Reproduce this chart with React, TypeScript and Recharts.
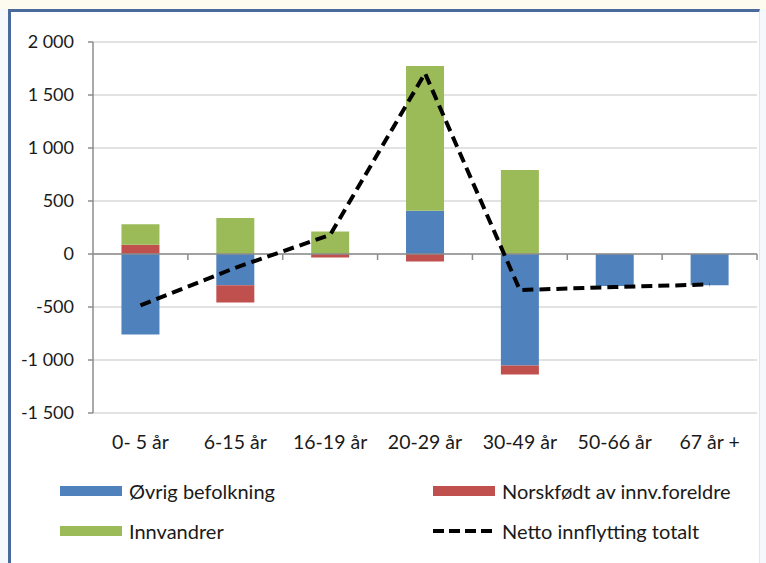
import React from 'react';
import * as R from 'recharts';
import { ComposedChart, Bar, Line, XAxis, YAxis, CartesianGrid, ReferenceLine } from 'recharts';

const categories = ['0- 5 år', '6-15 år', '16-19 år', '20-29 år', '30-49 år', '50-66 år', '67 år +'];
const ovrigBefolkning = [-759, -295, 0, 407, -1051, -302, -295];
const norskfodt = [88, -163, -34, -71, -85, 0, 0];
const innvandrer = [193, 339, 213, 1366, 793, 0, 0];
const nettoInnflytting = [-485, -130, 180, 1705, -340, -312, -287];
const yTicks = [-1500, -1000, -500, 0, 500, 1000, 1500, 2000];
const Y_MIN = -1500;
const Y_MAX = 2000;

const data = categories.map((c, i) => ({
  name: c,
  ovrig: ovrigBefolkning[i],
  norsk: norskfodt[i],
  innv: innvandrer[i],
  netto: nettoInnflytting[i],
}));

const FONT = 'Lato, "Open Sans", sans-serif';
const BLUE = '#4F81BD';
const RED = '#C0504D';
const GREEN = '#9BBB59';

const fmt = (v: number) => {
  const sign = v < 0 ? '-' : '';
  const a = Math.abs(v);
  if (a >= 1000) {
    const th = Math.floor(a / 1000);
    const rest = String(a % 1000).padStart(3, '0');
    return `${sign}${th} ${rest}`;
  }
  return `${sign}${a}`;
};

const legendItems = [
  { label: 'Øvrig befolkning', color: BLUE, type: 'rect', x: 60, y: 491 },
  { label: 'Norskfødt av innv.foreldre', color: RED, type: 'rect', x: 433, y: 491 },
  { label: 'Innvandrer', color: GREEN, type: 'rect', x: 60, y: 531 },
  { label: 'Netto innflytting totalt', color: '#000', type: 'line', x: 433, y: 531 },
];

const usePlotAreaSafe: () => any = (R as any).usePlotArea || (() => null);

function BoundaryTicks() {
  const pa = usePlotAreaSafe();
  if (!pa) return null;
  const zeroY = pa.y + (pa.height * (Y_MAX - 0)) / (Y_MAX - Y_MIN);
  const n = categories.length;
  return (
    <g>
      {categories.map((_, i) => {
        const x = pa.x + ((i + 1) * pa.width) / n;
        return <line key={i} x1={x} x2={x} y1={zeroY} y2={zeroY + 6} stroke="#8c8c8c" strokeWidth={1.5} />;
      })}
    </g>
  );
}

export default function App() {
  return (
    <div style={{ position: 'absolute', left: 0, top: 0, width: 766, height: 563, background: '#f4f8fc', overflow: 'hidden', fontFamily: FONT }}>
      <div style={{ position: 'absolute', left: 0, top: 0, width: 766, height: 9, background: '#fdfbf0' }} />
      <div
        style={{
          position: 'absolute',
          left: 8,
          top: 9,
          width: 752,
          height: 560,
          background: '#fff',
          borderLeft: '3px solid #4a6a9b',
          borderTop: '3px solid #4a6a9b',
          borderRight: '1px solid #dde7f1',
          boxSizing: 'border-box',
        }}
      />
      <div style={{ position: 'absolute', left: 0, top: 0 }}>
        <ComposedChart
          width={766}
          height={563}
          data={data}
          stackOffset="sign"
          barCategoryGap="30%"
          margin={{ top: 42, right: 9, bottom: 110, left: 0 }}
        >
          <CartesianGrid vertical={false} stroke="#d9d9d9" strokeWidth={1.5} />
          <XAxis
            dataKey="name"
            height={40}
            axisLine={false}
            tickLine={false}
            tickMargin={16}
            interval={0}
            tick={{ fontSize: 19.5, fill: '#1a1a1a', fontFamily: FONT }}
          />
          <YAxis
            width={93}
            domain={[Y_MIN, Y_MAX]}
            ticks={yTicks}
            tickFormatter={fmt}
            axisLine={{ stroke: '#8c8c8c', strokeWidth: 1.5 }}
            tickLine={{ stroke: '#8c8c8c', strokeWidth: 1.5 }}
            tickSize={5}
            tickMargin={14}
            tick={{ fontSize: 18, fill: '#1a1a1a', fontFamily: FONT }}
          />
          <Bar dataKey="ovrig" stackId="a" fill={BLUE} isAnimationActive={false} />
          <Bar dataKey="norsk" stackId="a" fill={RED} isAnimationActive={false} />
          <Bar dataKey="innv" stackId="a" fill={GREEN} isAnimationActive={false} />
          <ReferenceLine y={0} stroke="#8c8c8c" strokeWidth={1.5} />
          <BoundaryTicks />
          <Line
            dataKey="netto"
            type="linear"
            stroke="#000"
            strokeWidth={4}
            strokeDasharray="11 6"
            dot={false}
            activeDot={false}
            isAnimationActive={false}
          />
        </ComposedChart>
      </div>
      {legendItems.map((it) => (
        <div key={it.label} style={{ position: 'absolute', left: it.x, top: it.y - 15, height: 30, display: 'flex', alignItems: 'center' }}>
          <svg width={62} height={14} style={{ display: 'block' }}>
            {it.type === 'rect' ? (
              <rect x={0} y={2} width={62} height={10} fill={it.color} />
            ) : (
              <line x1={0} y1={7} x2={62} y2={7} stroke="#000" strokeWidth={4} strokeDasharray="11 5" />
            )}
          </svg>
          <span style={{ marginLeft: 7, fontSize: 20, color: '#1a1a1a', whiteSpace: 'nowrap', lineHeight: '30px' }}>{it.label}</span>
        </div>
      ))}
    </div>
  );
}
